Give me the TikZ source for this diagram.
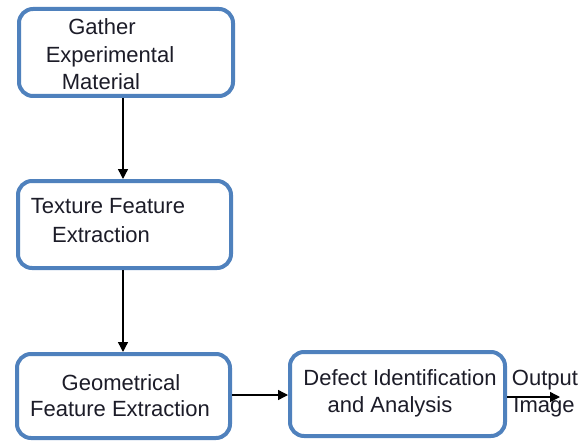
\documentclass[tikz,border=0pt]{standalone}
\usepackage{fontspec}
\setmainfont{Liberation Sans}
\usetikzlibrary{arrows.meta}
\definecolor{boxblue}{HTML}{4F81BD}
\definecolor{txt}{HTML}{1C1C28}
\tikzset{
  stepbox/.style={draw=boxblue, line width=4pt, rounded corners=14pt, fill=white, inner sep=0pt},
  ln/.style={anchor=base, inner sep=0pt, text=txt, font=\fontsize{22}{27}\selectfont},
  arr/.style={line width=1.4pt, -{Triangle[length=10pt,width=10pt]}}
}
\begin{document}
\begin{tikzpicture}[x=1pt,y=-1pt]
\useasboundingbox (0,0) rectangle (586,441);
\node[stepbox, minimum width=214pt, minimum height=87pt] (b1) at (126,52.5) {};
\node[stepbox, minimum width=213pt, minimum height=87pt] (b2) at (124.5,224.5) {};
\node[stepbox, minimum width=213pt, minimum height=84pt] (b3) at (123.5,396) {};
\node[stepbox, minimum width=215pt, minimum height=84pt] (b4) at (397.5,394) {};
% texts
\node[ln] (t1a) at (102,35) {Gather};
\node[ln] (t1b) at (110,63) {Experimental};
\node[ln] (t1c) at (101,90) {Material};
\node[ln] (t2a) at (108,213) {Texture Feature};
\node[ln] (t2b) at (101,242) {Extraction};
\node[ln] (t3a) at (121,390) {Geometrical};
\node[ln] (t3b) at (120,416) {Feature Extraction};
\node[ln] (t4a) at (400,385) {Defect Identification};
\node[ln] (t4b) at (390,412) {and Analysis};
\node[ln] (o1) at (545,385) {Output};
\node[ln] (o2) at (544,412) {Image};
\coordinate (oend) at (560,397);
% connectors
\draw[arr] (b1.south -| 123,0) -- (b2.north -| 123,0);
\draw[arr] (b2.south -| 123,0) -- (b3.north -| 123,0);
\draw[arr] (b3.east |- 0,395) -- (b4.west |- 0,395);
\draw[arr] (b4.east |- oend) -- (oend);
\end{tikzpicture}
\end{document}
